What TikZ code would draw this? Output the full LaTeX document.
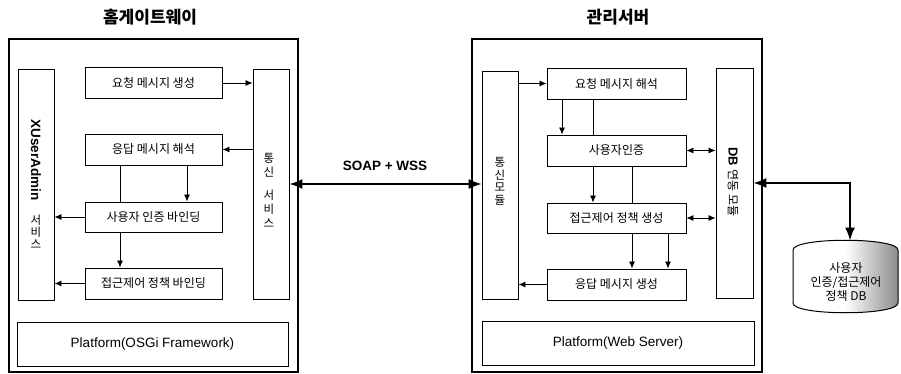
\documentclass[tikz,border=0pt]{standalone}
\usepackage{fontspec}
\setmainfont{Liberation Sans}
\newfontfamily\kr{Noto Sans CJK KR}
\usetikzlibrary{arrows.meta}
\begin{document}
\begin{tikzpicture}[x=1pt,y=-1pt,
 outer/.style={draw, line width=1.5pt, minimum height=333pt, inner sep=0pt},
 box/.style={draw, line width=0.9pt, minimum width=137pt, minimum height=31pt, font=\kr\fontsize{12}{14}\selectfont, inner sep=0pt},
 col/.style={draw, line width=0.9pt, minimum width=36pt, minimum height=230pt, inner sep=0pt},
 plat/.style={draw, line width=0.9pt, minimum height=44pt, inner sep=0pt, font=\fontsize{13.5}{16}\selectfont},
 arr/.style={line width=0.8pt, -{Latex[length=7pt,width=6pt]}},
 ln/.style={line width=0.8pt},
 dbl/.style={line width=0.8pt, {Latex[length=7pt,width=6pt]}-{Latex[length=7pt,width=6pt]}},
 big/.style={line width=1.6pt, {Latex[length=13pt,width=10pt]}-{Latex[length=13pt,width=10pt]}},
 ttl/.style={font=\kr\bfseries\fontsize{17}{20}\selectfont, inner sep=0pt},
 vt/.style={font=\kr\fontsize{11.5}{12.5}\selectfont, align=center, inner sep=0pt},
]
\useasboundingbox (0,0) rectangle (901,374);
\fill[white] (0,0) rectangle (901,374);

% titles
\node[ttl] (t1) at (150,17) {홈게이트웨이};
\node[ttl] (t2) at (618,17) {관리서버};

% ---------- home gateway ----------
\node[outer, minimum width=289pt] (gw) at (153.5,205.5) {};
\node[box] (req1) at (153.5,83) {요청 메시지 생성};
\node[box] (resp1) at (153.5,149.5) {응답 메시지 해석};
\node[box, minimum height=30pt] (auth1) at (153.5,217) {사용자 인증 바인딩};
\node[box] (acl1) at (153.5,283.5) {접근제어 정책 바인딩};
\node[col, minimum height=231pt] (xua) at (36,184.5) {};
\node[col] (comm1) at (271,184) {};
\node[plat, minimum width=271pt] (plat1) at (152.5,344) {Platform(OSGi Framework)};

\node[rotate=-90, inner sep=0pt, font=\bfseries\fontsize{13.5}{16}\selectfont] (xuat) at (36,160) {XUserAdmin};
\node[vt, font=\kr\fontsize{11.5}{12}\selectfont] (xuas) at (36,232) {서\\비\\스};
\node[vt, font=\kr\fontsize{11.5}{14}\selectfont] (comm1t) at (269,190) {통\\신\\[9pt]서\\비\\스};

\draw[arr] (req1.east) -- (req1.east -| comm1.west);
\draw[arr] (resp1.east -| comm1.west) -- (resp1.east);
\draw[arr] ([xshift=33.5pt]resp1.south) -- ([xshift=33.5pt]auth1.north);
\draw[ln] ([xshift=-33.5pt]resp1.south) -- ([xshift=-33.5pt]auth1.north);
\draw[arr] ([xshift=-33.5pt]auth1.south) -- ([xshift=-33.5pt]acl1.north);
\draw[arr] (auth1.west) -- (auth1.west -| xua.east);
\draw[arr] (acl1.west) -- (acl1.west -| xua.east);

% ---------- management server ----------
\node[outer, minimum width=290pt] (ms) at (617,205.5) {};
\node[col, minimum height=228pt] (comm2) at (500,185) {};
\node[box, minimum width=139pt] (req2) at (616.5,83.5) {요청 메시지 해석};
\node[box, minimum width=139pt] (auth2) at (616.5,150.5) {사용자인증};
\node[box, minimum width=139pt, minimum height=30pt] (acl2) at (616.5,218) {접근제어 정책 생성};
\node[box, minimum width=139pt] (resp2) at (616.5,284.5) {응답 메시지 생성};
\node[col, minimum width=37pt] (db2) at (734.5,183) {};
\node[plat, minimum width=272pt] (plat2) at (618,343) {Platform(Web Server)};

\node[vt] (comm2t) at (500,181.5) {통\\신\\모\\듈};
\node[rotate=-90, inner sep=0pt] (dbt) at (733,182) {\fontsize{13}{15}\selectfont\bfseries DB\ \kr\mdseries\fontsize{12}{14}\selectfont 연동 모듈};

\draw[arr] (comm2.east |- req2.west) -- (req2.west);
\draw[arr] ([xshift=-54.5pt]req2.south) -- ([xshift=-54.5pt]auth2.north);
\draw[ln] ([xshift=-23.5pt]req2.south) -- ([xshift=-23.5pt]auth2.north);
\draw[arr] ([xshift=-23.5pt]auth2.south) -- ([xshift=-23.5pt]acl2.north);
\draw[ln] ([xshift=15.5pt]auth2.south) -- ([xshift=15.5pt]acl2.north);
\draw[arr] ([xshift=15.5pt]acl2.south) -- ([xshift=15.5pt]resp2.north);
\draw[arr] ([xshift=51.5pt]acl2.south) -- ([xshift=51.5pt]resp2.north);
\draw[dbl] (auth2.east) -- (auth2.east -| db2.west);
\draw[dbl] (acl2.east) -- (acl2.east -| db2.west);
\draw[arr] (resp2.west) -- (resp2.west -| comm2.east);

% ---------- SOAP link ----------
\node[inner sep=0pt, font=\bfseries\fontsize{13.5}{16}\selectfont] (soap) at (385,166) {SOAP + WSS};
\draw[big] (comm1.east) -- (comm1.east -| comm2.west);

% ---------- DB cylinder ----------
\begin{scope}
\clip (793,303) -- (793,250) .. controls (793,237) and (898,237) .. (898,250)
      -- (898,303) .. controls (898,316) and (793,316) .. (793,303) -- cycle;
\fill[white] (790,230) rectangle (900,320);
\shade[left color=white, right color=black!45] (845,230) rectangle (898,320);
\end{scope}
\draw[line width=1pt] (793,303) -- (793,250) .. controls (793,237) and (898,237) .. (898,250)
      -- (898,303) .. controls (898,316) and (793,316) .. (793,303) -- cycle;
\coordinate (cyltop) at (850,240.5);
\node[inner sep=0pt, align=center, font=\kr\fontsize{12}{14}\selectfont] (dbc) at (846,282) {사용자\\인증/접근제어\\정책 DB};
\draw[big] (db2.east) -| (cyltop);
\end{tikzpicture}
\end{document}
